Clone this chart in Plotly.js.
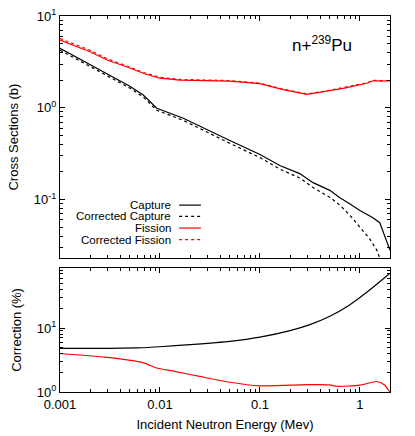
<!DOCTYPE html>
<html>
<head>
<meta charset="utf-8">
<script src="https://cdn.plot.ly/plotly-3.0.1.min.js"></script>
<style>
  html, body { margin: 0; padding: 0; background: #fff; }
  #plot { width: 415px; height: 436px; }
</style>
</head>
<body>
<div id="plot"></div>
<script>
// cross sections (b) vs incident neutron energy (MeV)
const captureE = [0.001, 0.002, 0.003, 0.005, 0.0068, 0.008, 0.0093, 0.0171, 0.03, 0.05, 0.1, 0.158, 0.25, 0.34, 0.5, 0.63, 0.79, 1.0, 1.35, 1.58, 2.0];
const capture = [4.45, 2.96, 2.32, 1.72, 1.38, 1.17, 0.99, 0.77, 0.57, 0.44, 0.31, 0.235, 0.192, 0.153, 0.126, 0.105, 0.090, 0.076, 0.0635, 0.056, 0.028];

const corrCaptureE = [0.001, 0.002, 0.003, 0.005, 0.0068, 0.008, 0.0093, 0.0171, 0.03, 0.05, 0.1, 0.158, 0.25, 0.34, 0.5, 0.63, 0.79, 1.0, 1.26, 1.48, 1.75];
const corrCapture = [4.24, 2.82, 2.21, 1.64, 1.31, 1.11, 0.94, 0.73, 0.535, 0.41, 0.287, 0.215, 0.172, 0.135, 0.106, 0.087, 0.068, 0.050, 0.037, 0.028, 0.017];

const fissionE = [0.001, 0.0015, 0.002, 0.003, 0.00464, 0.007, 0.01, 0.0158, 0.05, 0.1, 0.17, 0.295, 0.45, 0.68, 1.17, 1.35, 1.6, 2.0];
const fission = [5.47, 4.6, 4.08, 3.3, 2.8, 2.35, 2.1, 2.0, 1.95, 1.83, 1.58, 1.40, 1.50, 1.63, 1.85, 1.97, 1.95, 1.97];
const corrFission = [5.69, 4.77, 4.22, 3.41, 2.88, 2.41, 2.15, 2.04, 1.98, 1.85, 1.60, 1.42, 1.52, 1.65, 1.87, 1.99, 1.98, 1.97];

// correction (%)
const corrCapE = [0.001, 0.003, 0.006, 0.01, 0.02, 0.05, 0.1, 0.2, 0.316, 0.5, 0.79, 1.0, 1.26, 1.58, 2.0];
const corrCapPct = [4.8, 4.8, 4.9, 5.1, 5.5, 6.2, 7.2, 9.1, 11.3, 15.3, 23, 30, 39.7, 53, 72];
const corrFisE = [0.001, 0.0028, 0.0066, 0.0095, 0.014, 0.025, 0.05, 0.1, 0.2, 0.316, 0.5, 0.59, 1.0, 1.47, 1.75, 2.0];
const corrFisPct = [4.0, 3.5, 2.9, 2.35, 2.1, 1.75, 1.42, 1.25, 1.28, 1.30, 1.29, 1.23, 1.28, 1.46, 1.3, 1.0];

const xTicks = [0.001, 0.01, 0.1, 1];
const xTickText = ['0.001', '0.01', '0.1', '1'];
const legendNames = ['Capture', 'Corrected Capture', 'Fission', 'Corrected Fission'];

const FONT = 'Liberation Sans, Arial, sans-serif';
const RED = '#ff0000';

// minor tick positions 2..9 per decade
function minorVals(lo, hi) {
  const out = [];
  for (let d = lo; d < hi; d++) {
    for (let m = 2; m <= 9; m++) out.push(m * Math.pow(10, d));
  }
  return out;
}

const baseAxis = {
  type: 'log',
  showline: true,
  linecolor: '#000',
  linewidth: 1,
  mirror: 'allticks',
  ticks: 'inside',
  ticklen: 5,
  tickcolor: '#000',
  showgrid: false,
  zeroline: false,
  tickfont: {family: FONT, size: 13, color: '#000'}
};

const traces = [
  {x: captureE, y: capture, xaxis: 'x2', yaxis: 'y2', mode: 'lines', line: {color: '#000', width: 1.2}},
  {x: corrCaptureE, y: corrCapture, xaxis: 'x2', yaxis: 'y2', mode: 'lines', line: {color: '#000', width: 1.2, dash: '3px,3px'}},
  {x: fissionE, y: fission, xaxis: 'x2', yaxis: 'y2', mode: 'lines', line: {color: RED, width: 1.2}},
  {x: fissionE, y: corrFission, xaxis: 'x2', yaxis: 'y2', mode: 'lines', line: {color: RED, width: 1.2, dash: '3px,3px'}},
  {x: corrCapE, y: corrCapPct, xaxis: 'x', yaxis: 'y', mode: 'lines', line: {color: '#000', width: 1.2, shape: 'spline', smoothing: 0.6}},
  {x: corrFisE, y: corrFisPct, xaxis: 'x', yaxis: 'y', mode: 'lines', line: {color: RED, width: 1.2, shape: 'spline', smoothing: 0.6}}
];

// hand-made legend: text on the left, line sample on the right
const legRows = [0.497, 0.467, 0.436, 0.405];
const legStyles = [
  {color: '#000', dash: 'solid'},
  {color: '#000', dash: '3px,3px'},
  {color: RED, dash: 'solid'},
  {color: RED, dash: '3px,3px'}
];
const annotations = legendNames.map((name, i) => ({
  xref: 'paper', yref: 'paper', x: 0.343, y: legRows[i],
  xanchor: 'right', yanchor: 'middle', showarrow: false,
  text: name, font: {family: FONT, size: 11.5, color: '#000'}
}));
annotations.push({
  xref: 'paper', yref: 'paper', x: 0.795, y: 0.925,
  xanchor: 'center', yanchor: 'middle', showarrow: false,
  text: 'n+<sup>239</sup>Pu', font: {family: FONT, size: 17, color: '#000'}
});
const shapes = legendNames.map((name, i) => ({
  type: 'line', xref: 'paper', yref: 'paper',
  x0: 0.361, x1: 0.427, y0: legRows[i], y1: legRows[i],
  line: {color: legStyles[i].color, width: 1.2, dash: legStyles[i].dash}
}));

const layout = {
  width: 415,
  height: 436,
  margin: {l: 60, r: 25, t: 16, b: 44},
  paper_bgcolor: '#fff',
  plot_bgcolor: '#fff',
  showlegend: false,
  font: {family: FONT, size: 13, color: '#000'},
  xaxis: Object.assign({}, baseAxis, {
    anchor: 'y', range: [-3, Math.log10(2)],
    tickvals: xTicks, ticktext: xTickText,
    minor: {tickvals: minorVals(-3, 1), ticks: 'inside', ticklen: 3, tickcolor: '#000'},
    title: {text: 'Incident Neutron Energy (Mev)', font: {family: FONT, size: 13}, standoff: 9}
  }),
  yaxis: Object.assign({}, baseAxis, {
    domain: [0, 0.33], anchor: 'x', range: [0, 1.94],
    tickvals: [1, 10], ticktext: ['10<sup>0</sup>', '10<sup>1</sup>'],
    minor: {tickvals: minorVals(0, 2), ticks: 'inside', ticklen: 3, tickcolor: '#000'},
    title: {text: 'Correction (%)', font: {family: FONT, size: 13}, standoff: 12}
  }),
  xaxis2: Object.assign({}, baseAxis, {
    anchor: 'y2', matches: 'x', range: [-3, Math.log10(2)],
    tickvals: xTicks, showticklabels: false,
    minor: {tickvals: minorVals(-3, 1), ticks: 'inside', ticklen: 3, tickcolor: '#000'}
  }),
  yaxis2: Object.assign({}, baseAxis, {
    domain: [0.356, 1], anchor: 'x2', range: [-1.638, 1],
    tickvals: [0.1, 1, 10], ticktext: ['10<sup>-1</sup>', '10<sup>0</sup>', '10<sup>1</sup>'],
    minor: {tickvals: minorVals(-2, 1), ticks: 'inside', ticklen: 3, tickcolor: '#000'},
    title: {text: 'Cross Sections (b)', font: {family: FONT, size: 13}, standoff: 12}
  }),
  annotations: annotations,
  shapes: shapes
};

Plotly.newPlot('plot', traces, layout, {displayModeBar: false, staticPlot: true});
</script>
</body>
</html>
